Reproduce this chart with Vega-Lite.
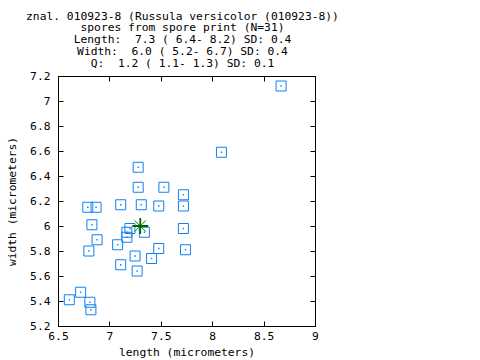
{
  "$schema": "https://vega.github.io/schema/vega-lite/v6.json",
  "width": 257,
  "height": 250,
  "autosize": {"type": "none"},
  "padding": {"left": 58, "top": 76, "right": 165, "bottom": 34},
  "background": "white",
  "title": {
    "text": [
      "znal. 010923-8 (Russula versicolor (010923-8))",
      "spores from spore print (N=31)",
      "Length:\u00a0\u00a07.3 (\u00a06.4-\u00a08.2) SD: 0.4",
      "\u00a0Width:\u00a0\u00a06.0 (\u00a05.2-\u00a06.7) SD: 0.4",
      "\u00a0\u00a0\u00a0\u00a0\u00a0Q:\u00a0\u00a01.2 (\u00a01.1-\u00a01.3) SD: 0.1"
    ],
    "font": "DejaVu Sans Mono",
    "fontSize": 11.3,
    "fontWeight": "normal",
    "lineHeight": 11.8,
    "anchor": "middle",
    "color": "black",
    "offset": 1,
    "dx": -4
  },
  "datasets": {
    "spores": [
      {"length": 8.67, "width": 7.12},
      {"length": 8.09, "width": 6.59},
      {"length": 7.28, "width": 6.47},
      {"length": 7.28, "width": 6.31},
      {"length": 7.53, "width": 6.31},
      {"length": 7.72, "width": 6.25},
      {"length": 6.79, "width": 6.15},
      {"length": 6.87, "width": 6.15},
      {"length": 7.11, "width": 6.17},
      {"length": 7.31, "width": 6.17},
      {"length": 7.48, "width": 6.16},
      {"length": 7.72, "width": 6.16},
      {"length": 6.83, "width": 6.01},
      {"length": 7.72, "width": 5.98},
      {"length": 7.20, "width": 5.98},
      {"length": 7.17, "width": 5.95},
      {"length": 7.17, "width": 5.91},
      {"length": 7.34, "width": 5.95},
      {"length": 6.88, "width": 5.89},
      {"length": 7.08, "width": 5.85},
      {"length": 6.80, "width": 5.80},
      {"length": 7.48, "width": 5.82},
      {"length": 7.74, "width": 5.81},
      {"length": 7.25, "width": 5.76},
      {"length": 7.41, "width": 5.74},
      {"length": 7.11, "width": 5.69},
      {"length": 7.27, "width": 5.64},
      {"length": 6.72, "width": 5.47},
      {"length": 6.61, "width": 5.41},
      {"length": 6.81, "width": 5.39},
      {"length": 6.82, "width": 5.33}
    ],
    "mean": [
      {"length": 7.3, "width": 6.0}
    ]
  },
  "layer": [
    {
      "data": {"name": "spores"},
      "mark": {"type": "point", "shape": "square", "size": 100, "filled": false, "stroke": "#1080f0", "strokeWidth": 1, "opacity": 1},
      "encoding": {
        "x": {"field": "length", "type": "quantitative", "scale": {"domain": [6.5, 9], "nice": false, "zero": false},
          "axis": {"orient": "bottom", "values": [6.5, 7, 7.5, 8, 8.5, 9], "format": "~f", "title": "length (micrometers)", "tickSize": -5, "labelPadding": 9, "titlePadding": 5, "labelFlush": false}},
        "y": {"field": "width", "type": "quantitative", "scale": {"domain": [5.2, 7.2], "nice": false, "zero": false},
          "axis": {"orient": "left", "values": [5.2, 5.4, 5.6, 5.8, 6, 6.2, 6.4, 6.6, 6.8, 7, 7.2], "format": "~f", "title": "width (micrometers)", "tickSize": -5, "labelPadding": 13, "titlePadding": 12, "labelFlush": false}}
      }
    },
    {
      "data": {"name": "spores"},
      "mark": {"type": "point", "shape": "square", "size": 2, "filled": true, "color": "#1080f0", "opacity": 1},
      "encoding": {
        "x": {"field": "length", "type": "quantitative", "axis": null},
        "y": {"field": "width", "type": "quantitative", "axis": null}
      }
    },
    {
      "data": {"name": "mean"},
      "mark": {"type": "point", "shape": "M-0.7,-0.7L0.7,0.7M-0.7,0.7L0.7,-0.7", "size": 256, "filled": false, "stroke": "#008000", "strokeWidth": 1, "opacity": 1},
      "encoding": {
        "x": {"field": "length", "type": "quantitative", "axis": null},
        "y": {"field": "width", "type": "quantitative", "axis": null}
      }
    },
    {
      "data": {"name": "mean"},
      "mark": {"type": "point", "shape": "M-1,0L1,0M0,-1L0,1", "size": 256, "filled": false, "stroke": "#006400", "strokeWidth": 1.8, "opacity": 1},
      "encoding": {
        "x": {"field": "length", "type": "quantitative",
          "axis": {"orient": "top", "values": [6.5, 7, 7.5, 8, 8.5, 9], "labels": false, "title": null, "tickSize": -5}},
        "y": {"field": "width", "type": "quantitative",
          "axis": {"orient": "right", "values": [5.2, 5.4, 5.6, 5.8, 6, 6.2, 6.4, 6.6, 6.8, 7, 7.2], "labels": false, "title": null, "tickSize": -5}}
      }
    }
  ],
  "resolve": {"axis": {"x": "independent", "y": "independent"}},
  "config": {
    "view": {"stroke": "black", "strokeWidth": 1},
    "axis": {
      "grid": false,
      "domainColor": "black",
      "tickColor": "black",
      "labelColor": "black",
      "titleColor": "black",
      "labelFont": "DejaVu Sans Mono",
      "labelFontSize": 11.3,
      "titleFont": "DejaVu Sans Mono",
      "titleFontSize": 11.3,
      "titleFontWeight": "normal"
    }
  }
}
